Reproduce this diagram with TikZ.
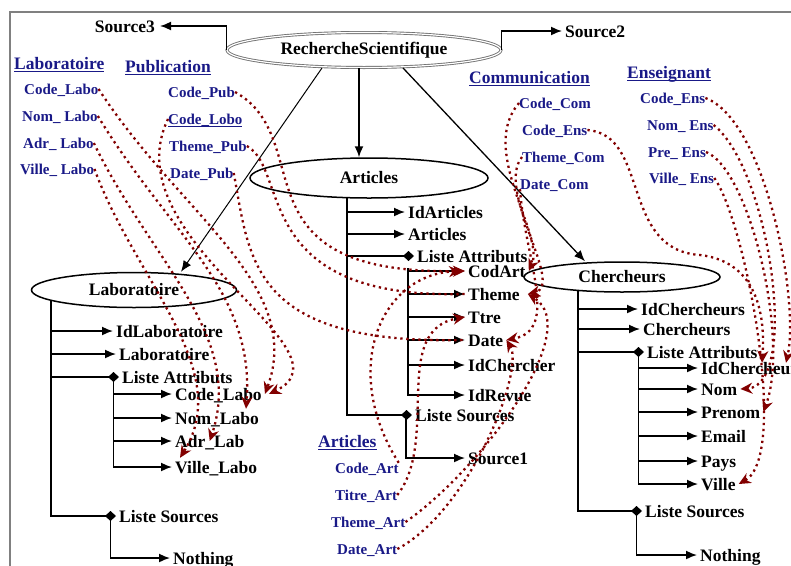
\documentclass[tikz,border=0pt]{standalone}
\usepackage{fontspec}
\setmainfont{Liberation Serif}
\usetikzlibrary{shapes.geometric,arrows.meta}

\definecolor{bleufonce}{RGB}{25,25,135}
\definecolor{rougefonce}{RGB}{130,0,0}

\newcommand{\souligne}[1]{\setbox0=\hbox{#1}\rlap{\rule[-3pt]{\wd0}{1.5pt}}\box0}

\tikzset{
  entite/.style={ellipse, draw, line width=1.5pt, inner sep=0pt, font=\bfseries\fontsize{17.5}{20}\selectfont},
  attribut/.style={anchor=west, inner sep=3pt, text height=12pt, text depth=0pt, font=\bfseries\fontsize{17.5}{20}\selectfont},
  champ/.style={anchor=west, inner sep=0pt, text height=10pt, text depth=0pt, text=bleufonce, font=\bfseries\fontsize{15}{18}\selectfont},
  titre/.style={anchor=west, inner sep=0pt, text height=12pt, text depth=0pt, text=bleufonce, font=\bfseries\fontsize{17.5}{20}\selectfont},
  fleche/.style={-{Latex[length=11pt,width=9pt]}, line width=1.6pt},
  liste/.style={-{Diamond[length=11pt,width=10pt]}, line width=1.6pt},
  lien/.style={-{Stealth[length=12pt,width=11pt]}, rougefonce, line width=2.3pt, dash pattern=on 2.3pt off 3.7pt}
}

\begin{document}
\begin{tikzpicture}[x=1pt,y=-1pt]
        \clip (0,0) rectangle (791,565);

        % frame
        \draw[black!50, line width=1.8pt] (10,580) -- (10,12) -- (800,12);

        % entities
        \node[entite, draw=black!55, double=white, double distance=1.2pt, line width=0.9pt, minimum width=274pt, minimum height=35pt] (rs) at (364,50) {RechercheScientifique};
        \node[entite, minimum width=238pt, minimum height=40pt] (art) at (369,178) {Articles};
        \node[entite, minimum width=205pt, minimum height=35pt] (lab) at (134,290) {Laboratoire};
        \node[entite, minimum width=196pt, minimum height=30pt] (cher) at (622,277) {Chercheurs};

        % sources of the root
        \node[attribut, anchor=east, inner sep=5pt] (src3) at (160,26) {Source3};
        \node[attribut] (src2) at (562,31) {Source2};
        \draw[fleche] (rs.west) |- (src3.east);
        \draw[fleche] (rs.east) |- (src2.west);

        % root to entities
        \draw[fleche, line width=1pt] ([xshift=-42pt]rs.south) -- ([xshift=47pt]lab.north);
        \draw[fleche] ([xshift=-5pt]rs.south) -- ([xshift=-10pt]art.north);
        \draw[fleche, line width=1.3pt] ([xshift=39pt]rs.south) -- ([xshift=-37pt]cher.north);

        % Laboratoire tree
        \node[attribut] (idlab) at (113,331) {IdLaboratoire};
        \node[attribut] (lablab) at (116,354) {Laboratoire};
        \node[attribut] (lalab) at (119,377) {Liste Attributs};
        \node[attribut] (codelab) at (172,394) {Code\_Labo};
        \node[attribut] (nomlab) at (172,418) {Nom\_Labo};
        \node[attribut] (adrlab) at (172,441) {Adr\_Lab};
        \node[attribut] (villelab) at (172,467) {Ville\_Labo};
        \node[attribut] (lslab) at (116,516) {Liste Sources};
        \node[attribut] (nothlab) at (170,558) {Nothing};
        \coordinate (labt) at (51,301);
        \coordinate (lalabt) at ([xshift=-5.5pt]lalab.west);
        \coordinate (lslabt) at ([xshift=-5.5pt]lslab.west);
        \draw[fleche] (labt) |- (idlab.west);
        \draw[fleche] (labt) |- (lablab.west);
        \draw[liste] (labt) |- (lalab.west);
        \draw[liste] (labt) |- (lslab.west);
        \foreach \a in {codelab,nomlab,adrlab,villelab}
          \draw[fleche] (lalabt) |- (\a.west);
        \draw[fleche] (lslabt) |- (nothlab.west);

        % Articles tree
        \node[attribut] (idart) at (405,212) {IdArticles};
        \node[attribut] (artart) at (405,234) {Articles};
        \node[attribut] (laart) at (414,256) {Liste Attributs};
        \node[attribut] (codart) at (465,271) {CodArt};
        \node[attribut] (themeart) at (465,294) {Theme};
        \node[attribut] (ttreart) at (465,317) {Ttre};
        \node[attribut] (dateart) at (465,340) {Date};
        \node[attribut] (idchart) at (465,365) {IdChercher};
        \node[attribut] (idrevart) at (465,395) {IdRevue};
        \node[attribut] (lsart) at (412,415) {Liste Sources};
        \node[attribut] (src1) at (465,458) {Source1};
        \coordinate (artt) at (347,198);
        \coordinate (laartt) at ([xshift=-6pt,yshift=-12pt]laart.west);
        \coordinate (lsartt) at ([xshift=-6pt]lsart.west);
        \draw[fleche] (artt) |- (idart.west);
        \draw[fleche] (artt) |- (artart.west);
        \draw[liste] (artt) |- (laart.west);
        \draw[liste] (artt) |- (lsart.west);
        \foreach \a in {codart,themeart,ttreart,dateart,idchart,idrevart}
          \draw[fleche] (laartt) |- (\a.west);
        \draw[fleche] (lsartt) |- (src1.west);

        % Chercheurs tree
        \node[attribut] (idcher) at (638,309) {IdChercheurs};
        \node[attribut] (chercher) at (640,329) {Chercheurs};
        \node[attribut] (lacher) at (644,352) {Liste Attributs};
        \node[attribut] (idch) at (698,368) {IdChercheurs};
        \node[attribut] (nomch) at (698,389) {Nom};
        \node[attribut] (prench) at (698,412) {Prenom};
        \node[attribut] (emailch) at (698,436) {Email};
        \node[attribut] (paysch) at (698,461) {Pays};
        \node[attribut] (villech) at (698,484) {Ville};
        \node[attribut] (lscher) at (642,511) {Liste Sources};
        \node[attribut] (nothch) at (697,555) {Nothing};
        \coordinate (chert) at (578,290);
        \coordinate (lachert) at ([xshift=-5.5pt]lacher.west);
        \coordinate (lschert) at ([xshift=-5.5pt]lscher.west);
        \draw[fleche] (chert) |- (idcher.west);
        \draw[fleche] (chert) |- (chercher.west);
        \draw[liste] (chert) |- (lacher.west);
        \draw[liste] (chert) |- (lscher.west);
        \foreach \a in {idch,nomch,prench,emailch,paysch,villech}
          \draw[fleche] (lachert) |- (\a.west);
        \draw[fleche] (lschert) |- (nothch.west);

        % source tables
        \node[titre] (hlab) at (14,63) {\souligne{Laboratoire}};
        \node[champ] (labcode) at (24,89) {Code\_Labo};
        \node[champ] (labnom) at (22,116) {Nom\_ Labo};
        \node[champ] (labadr) at (23,143) {Adr\_ Labo};
        \node[champ] (labville) at (20,169) {Ville\_ Labo};

        \node[titre] (hpub) at (125,66) {\souligne{Publication}};
        \node[champ] (pubcode) at (168,92) {Code\_Pub};
        \node[champ] (publobo) at (168,119) {\souligne{Code\_Lobo}};
        \node[champ] (pubtheme) at (169,146) {Theme\_Pub};
        \node[champ] (pubdate) at (170,173) {Date\_Pub};

        \node[titre] (hcom) at (469,77) {\souligne{Communication}};
        \node[champ] (comcode) at (519,103) {Code\_Com};
        \node[champ] (comens) at (522,130) {Code\_Ens};
        \node[champ] (comtheme) at (522,157) {Theme\_Com};
        \node[champ] (comdate) at (520,184) {Date\_Com};

        \node[titre] (hens) at (627,72) {\souligne{Enseignant}};
        \node[champ] (enscode) at (640,98) {Code\_Ens};
        \node[champ] (ensnom) at (647,125) {Nom\_ Ens};
        \node[champ] (enspre) at (648,152) {Pre\_ Ens};
        \node[champ] (ensville) at (649,178) {Ville\_ Ens};

        \node[titre] (hart) at (318,441) {\souligne{Articles}};
        \node[champ] (artcode) at (335,468) {Code\_Art};
        \node[champ] (arttitre) at (335,495) {Titre\_Art};
        \node[champ] (arttheme) at (331,522) {Theme\_Art};
        \node[champ] (artdate) at (337,549) {Date\_Art};

        % mappings to Laboratoire
        \draw[lien] (labcode.east) .. controls (180,215) and (305,285) .. (codelab.east);
        \draw[lien] (labnom.east) .. controls (170,235) and (255,290) .. ([xshift=-16pt]nomlab.north east);
        \draw[lien] (labadr.east) .. controls (150,260) and (245,335) .. (adrlab.center);
        \draw[lien] (labville.east) .. controls (135,280) and (235,370) .. ([xshift=8pt]villelab.north west);
        \draw[lien] (publobo.west) .. controls (110,240) and (360,350) .. ([xshift=4pt]codelab.east);

        % mappings to Articles
        \draw[lien] (pubcode.east) .. controls (320,140) and (230,275) .. (codart.west);
        \draw[lien, -] (pubtheme.east) .. controls (290,170) and (250,300) .. (themeart.west);
        \draw[lien, -] (pubdate.east) .. controls (250,260) and (250,345) .. (dateart.west);
        \draw[lien] (artcode.north east) .. controls (340,370) and (380,275) .. ([xshift=-4pt]codart.west);
        \draw[lien] (arttitre.east) .. controls (440,440) and (390,330) .. (ttreart.west);
        \draw[lien] (arttheme.east) .. controls (480,470) and (585,330) .. ([xshift=5pt]themeart.east);
        \draw[lien] (artdate.east) .. controls (470,510) and (525,370) .. (dateart.east);
        \draw[lien] (comcode.west) .. controls (478,150) and (545,235) .. (codart.east);
        \draw[lien] (comtheme.west) .. controls (495,190) and (565,285) .. ([xshift=5pt]themeart.east);
        \draw[lien] (comdate.south west) .. controls (525,260) and (560,330) .. (dateart.east);

        % mappings to Chercheurs
        \draw[lien] (comens.east) .. controls (650,135) and (620,250) .. (700,255)
          .. controls (760,262) and (765,320) .. ([xshift=64pt,yshift=-4pt]idch.north west);
        \draw[lien] (enscode.east) .. controls (765,120) and (800,300) .. ([xshift=88pt,yshift=-4pt]idch.north west);
        \draw[lien] (ensnom.east) .. controls (770,170) and (800,385) .. (nomch.east);
        \draw[lien] (enspre.east) .. controls (750,170) and (790,340) .. (prench.east);
        \draw[lien] (ensville.east) .. controls (745,220) and (790,455) .. (villech.east);

     \end{tikzpicture}
\end{document}
